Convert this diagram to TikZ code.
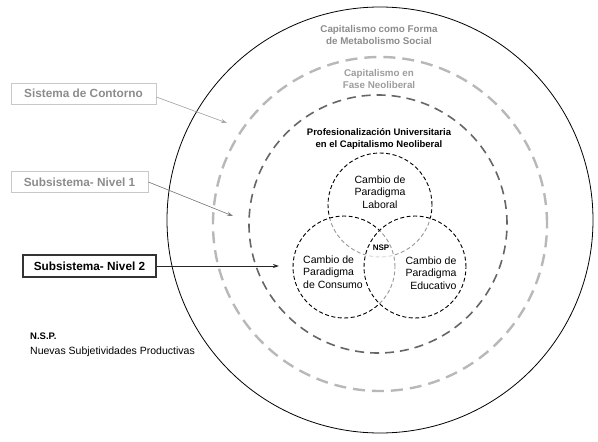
\documentclass[tikz,border=0pt]{standalone}
\usepackage{fontspec}
\setmainfont{Liberation Sans}
\usetikzlibrary{arrows.meta}
\definecolor{lgray}{HTML}{B8B8B8}
\definecolor{dgray}{HTML}{666666}
\definecolor{tgray}{HTML}{8C8C8C}
\definecolor{bgray}{HTML}{C8C8C8}
\tikzset{
  lbox/.style={draw=bgray, line width=0.8pt, text=tgray, font=\fontsize{11.8}{13}\selectfont\bfseries, minimum height=21pt, inner sep=0pt},
  venn/.style={draw=black, line width=0.9pt, dash pattern=on 4pt off 2.5pt, fill=white, fill opacity=0.6},
  venntxt/.style={font=\fontsize{10.5}{12.7}\selectfont, inner sep=0pt},
  arr/.style={-{Stealth[length=6pt,width=4pt]}, line width=0.6pt}
}
\begin{document}
\begin{tikzpicture}[x=1pt,y=-1pt]
\useasboundingbox (0,0) rectangle (598,442);
% outer circles
\draw[black, line width=0.8pt] (380,220) circle[radius=213pt];
\draw[lgray, line width=2.4pt, dash pattern=on 12pt off 7pt] (380,224) circle[radius=167pt];
\draw[dgray, line width=1.6pt, dash pattern=on 9pt off 6pt] (378,224) circle[radius=129pt];
% venn circles
\path[venn] (380,205) circle[radius=52pt];
\path[venn] (344,267) circle[radius=51pt];
\path[venn] (415,267) circle[radius=51pt];
% texts in circles
\node[align=center, text=tgray, font=\fontsize{9.8}{12}\selectfont\bfseries] (t1) at (379,35) {Capitalismo como Forma\\de Metabolismo Social};
\node[align=center, text=tgray!85, font=\fontsize{9.8}{12}\selectfont\bfseries] (t2) at (379,79) {Capitalismo en\\Fase Neoliberal};
\node[align=center, font=\fontsize{9.5}{11.5}\selectfont\bfseries] (t3) at (379,139) {Profesionalización Universitaria\\en el Capitalismo Neoliberal};
\node[venntxt, align=center] (lab) at (380,192) {Cambio de\\Paradigma\\Laboral};
\node[venntxt, align=left] (con) at (333,272) {Cambio de\\Paradigma\\de Consumo};
\node[venntxt, align=right] (edu) at (431,273) {Cambio de\\Paradigma\\Educativo};
\node[font=\fontsize{8}{9}\selectfont\bfseries, inner sep=0pt] (nsp) at (381,248) {NSP};
% left boxes
\node[lbox, minimum width=145pt] (b1) at (83.5,93.5) {Sistema de Contorno};
\node[lbox, minimum width=137pt] (b2) at (79.5,182) {Subsistema- Nivel 1};
\node[lbox, draw=black!80, text=black, line width=1.1pt, minimum width=133pt, minimum height=22pt] (b3) at (89.5,266) {Subsistema- Nivel 2};
\coordinate (e1) at (227,123);
\coordinate (e2) at (233,216);
\coordinate (e3) at (279,266);
\draw[arr, draw=lgray!90!black, fill=lgray!90!black] (b1.east |- 0,97) -- (e1);
\draw[arr, draw=tgray!90!black, fill=tgray!90!black] (b2.east) -- (e2);
\draw[arr, draw=black!85, line width=1pt] (b3.east) -- (e3);
% legend
\node[anchor=west, font=\fontsize{9.5}{11}\selectfont\bfseries, inner sep=0pt] (leg1) at (30,336) {N.S.P.};
\node[anchor=west, font=\fontsize{10.5}{12}\selectfont, inner sep=0pt] (leg2) at (30,352) {Nuevas Subjetividades Productivas};
\end{tikzpicture}
\end{document}
